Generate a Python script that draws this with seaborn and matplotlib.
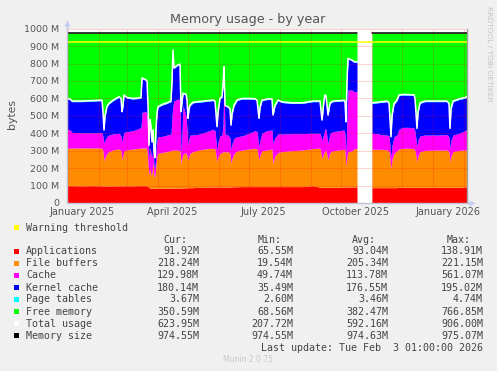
import matplotlib
matplotlib.use("Agg")
import matplotlib.pyplot as plt
from matplotlib.patches import Rectangle
import seaborn as sns
import numpy as np
import pandas as pd

# ---------------- data (values in MB, x in days since 2024-12-31 12:00) ----------------
seg1_days = [0, 3, 5, 15, 25, 33, 35, 36, 37, 38,
             40, 42, 46, 52, 54, 55, 56, 57, 60, 66,
             72, 74, 75, 79, 80, 81, 82, 83, 84, 85,
             86, 87, 88, 89, 90, 91, 95, 100, 104, 105,
             106, 107, 110, 113, 114, 115, 116, 119, 120, 121,
             122, 123, 126, 132, 140, 146, 148, 150, 151, 153,
             155, 156, 157, 158, 161, 163, 164, 165, 167, 170,
             175, 182, 188, 190, 192, 193, 195, 200, 205, 206,
             208, 211, 215, 225, 235, 243, 246, 250, 253, 255,
             257, 258, 259, 261, 263, 266, 272, 277, 278, 279,
             280, 281, 285, 287, 290]
seg1_apps = [99, 99, 99, 98, 99, 98, 98, 97, 97, 97,
             97, 97, 98, 98, 98, 98, 98, 98, 98, 98,
             99, 99, 99, 99, 98, 95, 88, 86, 85, 85,
             85, 85, 84, 84, 84, 84, 84, 85, 85, 85,
             86, 86, 86, 86, 86, 86, 87, 87, 87, 87,
             88, 88, 88, 90, 92, 92, 92, 92, 92, 92,
             92, 92, 92, 92, 92, 92, 92, 92, 93, 93,
             94, 94, 94, 94, 94, 94, 94, 94, 94, 94,
             94, 94, 94, 94, 94, 98, 99, 94, 90, 90,
             90, 90, 90, 90, 90, 90, 90, 92, 92, 92,
             92, 92, 92, 92, 92]
seg1_buffers = [215, 216, 216, 218, 217, 217, 216, 203, 143, 163,
                188, 198, 207, 212, 202, 149, 177, 202, 207, 212,
                215, 216, 217, 217, 202, 135, 72, 114, 75, 85,
                145, 70, 67, 136, 186, 201, 206, 210, 215, 219,
                218, 218, 218, 214, 143, 174, 193, 203, 183, 158,
                182, 197, 207, 214, 220, 222, 218, 145, 173, 193,
                198, 202, 202, 202, 202, 193, 136, 163, 192, 205,
                210, 216, 220, 216, 153, 181, 206, 210, 216, 134,
                176, 196, 201, 206, 210, 212, 213, 220, 224, 166,
                200, 210, 210, 157, 200, 210, 214, 216, 208, 116,
                178, 202, 208, 218, 222]
seg1_cache = [109, 105, 90, 87, 87, 88, 88, 80, 102, 100,
              97, 95, 91, 90, 85, 105, 105, 105, 104, 105,
              114, 119, 204, 209, 200, 190, 90, 120, 120, 90,
              100, 65, 49, 80, 90, 95, 92, 95, 96, 196,
              256, 281, 291, 295, 56, 140, 280, 210, 150, 85,
              100, 105, 95, 91, 98, 109, 105, 67, 85, 100,
              100, 156, 406, 101, 96, 90, 76, 85, 85, 82,
              81, 90, 101, 100, 76, 85, 100, 111, 109, 114,
              105, 106, 101, 98, 94, 90, 88, 86, 86, 105,
              110, 128, 120, 95, 110, 109, 111, 111, 100, 77,
              230, 354, 348, 329, 325]
seg1_kernel = [173.5, 173.5, 176.5, 178.5, 181.5, 183.5, 184.5, 136.5, 73.5, 136.5,
               169.5, 178.5, 190.5, 206.5, 211.5, 168.5, 176.5, 211.5, 192.5, 181.5,
               171.5, 168.5, 194.5, 177.5, 196.5, 136.5, 76.5, 156.5, 156.5, 86.5,
               86.5, 76.5, 56.5, 116.5, 156.5, 169.5, 179.5, 181.5, 185.5, 196.5,
               314.5, 186.5, 191.5, 198.5, 235.5, 176.5, 66.5, 121.5, 166.5, 152.5,
               166.5, 168.5, 184.5, 183.5, 173.5, 164.5, 166.5, 130.5, 166.5, 211.5,
               216.5, 226.5, 78.5, 161.5, 159.5, 161.5, 139.5, 166.5, 186.5, 207.5,
               211.5, 196.5, 179.5, 176.5, 159.5, 186.5, 186.5, 178.5, 174.5, 159.5,
               181.5, 191.5, 180.5, 173.5, 173.5, 178.5, 181.5, 181.5, 181.5, 111.5,
               186.5, 188.5, 191.5, 159.5, 171.5, 172.5, 168.5, 167.5, 176.5, 177.5,
               196.5, 178.5, 168.5, 168.5, 168.5]

seg2_days = [305, 310, 315, 320, 322, 324, 325, 327, 330, 332,
             336, 342, 347, 348, 350, 351, 353, 358, 370, 380,
             382, 383, 384, 386, 392, 398, 400]
seg2_apps = [88, 88, 88, 88, 88, 88, 88, 88, 88, 90,
             90, 90, 90, 90, 90, 90, 90, 90, 90, 90,
             90, 90, 90, 90, 90, 92, 92]
seg2_buffers = [220, 220, 220, 217, 207, 111, 162, 197, 212, 220,
                224, 224, 222, 210, 147, 180, 205, 212, 214, 214,
                205, 147, 180, 205, 212, 212, 214]
seg2_cache = [92, 90, 84, 85, 90, 67, 80, 95, 90, 115,
              120, 120, 118, 110, 86, 90, 90, 88, 86, 88,
              85, 77, 90, 95, 98, 111, 117]
seg2_kernel = [171.5, 176.5, 185.5, 191.5, 186.5, 110.5, 166.5, 186.5, 197.5, 191.5,
               185.5, 184.5, 186.5, 186.5, 101.5, 156.5, 186.5, 191.5, 191.5, 189.5,
               186.5, 110.5, 176.5, 191.5, 193.5, 186.5, 183.5]
page_tables = 3.5
memory_size = 974.55
warning_threshold = 926.0

origin = pd.Timestamp("2024-12-31 12:00")
month_starts = pd.date_range("2025-01-01", "2026-02-01", freq="MS")
label_months = ["2025-01-01", "2025-04-01", "2025-07-01", "2025-10-01", "2026-01-01"]
label_texts = ["January 2025", "April 2025", "July 2025", "October 2025", "January 2026"]
y_ticks = [0, 100, 200, 300, 400, 500, 600, 700, 800, 900, 1000]
y_labels = ["0"] + [f"{v} M" for v in y_ticks[1:]]

legend_names = ["Applications", "File buffers", "Cache", "Kernel cache", "Page tables",
                "Free memory", "Total usage", "Memory size"]
legend_cur = ["91.92M", "218.24M", "129.98M", "180.14M", "3.67M", "350.59M", "623.95M", "974.55M"]
legend_min = ["65.55M", "19.54M", "49.74M", "35.49M", "2.60M", "68.56M", "207.72M", "974.55M"]
legend_avg = ["93.04M", "205.34M", "113.78M", "176.55M", "3.46M", "382.47M", "592.16M", "974.63M"]
legend_max = ["138.91M", "221.15M", "561.07M", "195.02M", "4.74M", "766.85M", "906.00M", "975.07M"]

# ---------------- style ----------------
C_APPS, C_BUF, C_CACHE, C_KERN = "#FF0000", "#FF8C00", "#FF00FF", "#0000FF"
C_PT, C_FREE, C_TOTAL, C_MEM, C_WARN = "#00FFFF", "#00FF00", "#FFFFFF", "#000000", "#FFFF00"
legend_colors = [C_APPS, C_BUF, C_CACHE, C_KERN, C_PT, C_FREE, C_TOTAL, C_MEM]

sns.set_theme(style="white")
plt.rcParams["font.family"] = ["DejaVu Sans"]

W, H = 497, 371
fig = plt.figure(figsize=(W / 100, H / 100), dpi=100, facecolor="#F0F0F0")
top_px, bot_px, left_px, right_px = 28.7, 203.0, 67.0, 467.0
ax = fig.add_axes([left_px / W, 1 - bot_px / H, (right_px - left_px) / W, (bot_px - top_px) / H])
ax.set_facecolor("#FFFFFF")

segments = [
    (seg1_days, seg1_apps, seg1_buffers, seg1_cache, seg1_kernel),
    (seg2_days, seg2_apps, seg2_buffers, seg2_cache, seg2_kernel),
]
for days, apps, bufs, cache, kern in segments:
    assert len(days) == len(apps) == len(bufs) == len(cache) == len(kern)
    d = np.array(days, float)
    layers = [np.array(apps, float), np.array(bufs, float), np.array(cache, float),
              np.array(kern, float), np.full(len(d), page_tables)]
    cols = [C_APPS, C_BUF, C_CACHE, C_KERN, C_PT]
    base = np.zeros(len(d))
    for lay, c in zip(layers, cols):
        ax.fill_between(d, base, base + lay, color=c, lw=0, zorder=1)
        base = base + lay
    mem = np.full(len(d), memory_size)
    ax.fill_between(d, base, mem, color=C_FREE, lw=0, zorder=1)
    df = pd.DataFrame({"day": d, "total": base, "mem": mem})
    sns.lineplot(data=df, x="day", y="total", color=C_TOTAL, lw=1.1, ax=ax,
                 estimator=None, sort=False, legend=False, zorder=4)
    sns.lineplot(data=df, x="day", y="mem", color=C_MEM, lw=1.1, ax=ax,
                 estimator=None, sort=False, legend=False, zorder=4)

warn_df = pd.DataFrame({"day": [0.0, 400.0], "w": [warning_threshold, warning_threshold]})
sns.lineplot(data=warn_df, x="day", y="w", color=C_WARN, lw=1.1, ax=ax,
             estimator=None, legend=False, zorder=4)

month_pos = [(m - origin) / pd.Timedelta("1D") for m in month_starts]
label_pos = [(pd.Timestamp(m) - origin) / pd.Timedelta("1D") + 15 for m in label_months]

ax.set_xlim(0, 400)
ax.set_ylim(0, 1000)

grid_kw = dict(color=(1.0, 0.0, 0.0, 0.35), lw=0.72, ls=(0, (1, 1)), zorder=3)
for v in y_ticks[1:]:
    ax.axhline(v, **grid_kw)
for p in month_pos:
    ax.axvline(p, **grid_kw)

ax.set_xticks(label_pos)
ax.set_xticklabels(label_texts)
ax.set_xticks(month_pos, minor=True)
ax.set_yticks(y_ticks)
ax.set_yticklabels(y_labels)
ax.tick_params(axis="x", which="major", length=0, pad=3.0, labelsize=7, labelcolor="#555555")
ax.tick_params(axis="x", which="minor", length=2, width=0.7, color=(1, 0, 0, 0.4), direction="out")
ax.tick_params(axis="y", which="major", length=2, width=0.7, color=(1, 0, 0, 0.4),
               pad=3.5, labelsize=6.8, labelcolor="#555555")
ax.set_xlabel("")
ax.set_ylabel("")

for s in ["top", "left", "bottom"]:
    ax.spines[s].set_visible(False)
ax.spines["right"].set_color("#A0A0A0")
ax.spines["right"].set_linewidth(1.0)

# axis lines with arrows
ax.plot([0, 0], [0, 1.035], transform=ax.transAxes, color="#BFC3D8", lw=1, clip_on=False, zorder=6)
ax.plot([0, 1.012], [0, 0], transform=ax.transAxes, color="#BFC3D8", lw=1, clip_on=False, zorder=6)
ax.plot([0], [1.035], transform=ax.transAxes, marker="^", ms=4, color="#C4CCF6",
        clip_on=False, zorder=6, mec="none")
ax.plot([1.012], [0], transform=ax.transAxes, marker=">", ms=4, color="#C4CCF6",
        clip_on=False, zorder=6, mec="none")

# titles / side texts
fig.text(248 / W, 1 - 19 / H, "Memory usage - by year", ha="center", va="center",
         fontsize=9.2, color="#555555")
fig.text(11.5 / W, 1 - 114 / H, "bytes", ha="center", va="center", rotation=90,
         fontsize=7.8, color="#555555")
fig.text(488.5 / W, 1 - 53.5 / H, "RRDTOOL / TOBI OETIKER", ha="center", va="center",
         rotation=270, fontsize=5.4, color="#C4C4C4")

# legend block
mono = dict(family="DejaVu Sans Mono", fontsize=7.2, color="#444444")


def ypos(y):
    return 1 - y / H


def swatch(y, color):
    fig.add_artist(Rectangle((14 / W, ypos(y + 2.5)), 5 / W, 5 / H, transform=fig.transFigure,
                             facecolor=color, edgecolor="none"))


swatch(227.7, C_WARN)
fig.text(26 / W, ypos(227.7), "Warning threshold", ha="left", va="center", **mono)
for x, h in zip([163, 258, 352, 447], ["Cur:", "Min:", "Avg:", "Max:"]):
    fig.text(x / W, ypos(239.7), h, ha="left", va="center", **mono)

row_y = [251.0, 263.3, 275.3, 287.7, 299.3, 311.7, 323.7, 335.7]
for y, name, col, c, mn, av, mx in zip(row_y, legend_names, legend_colors,
                                       legend_cur, legend_min, legend_avg, legend_max):
    swatch(y, col)
    fig.text(26 / W, ypos(y), name, ha="left", va="center", **mono)
    for x, val in zip([199, 293, 388, 483], [c, mn, av, mx]):
        fig.text(x / W, ypos(y), val, ha="right", va="center", **mono)

fig.text(483 / W, ypos(347.7), "Last update: Tue Feb  3 01:00:00 2026", ha="right",
         va="center", **mono)
fig.text(248 / W, ypos(360), "Munin 2.0.75", ha="center", va="center", fontsize=5.5,
         color="#C8C8C8")

fig.savefig("out.png", dpi=100, facecolor=fig.get_facecolor())
